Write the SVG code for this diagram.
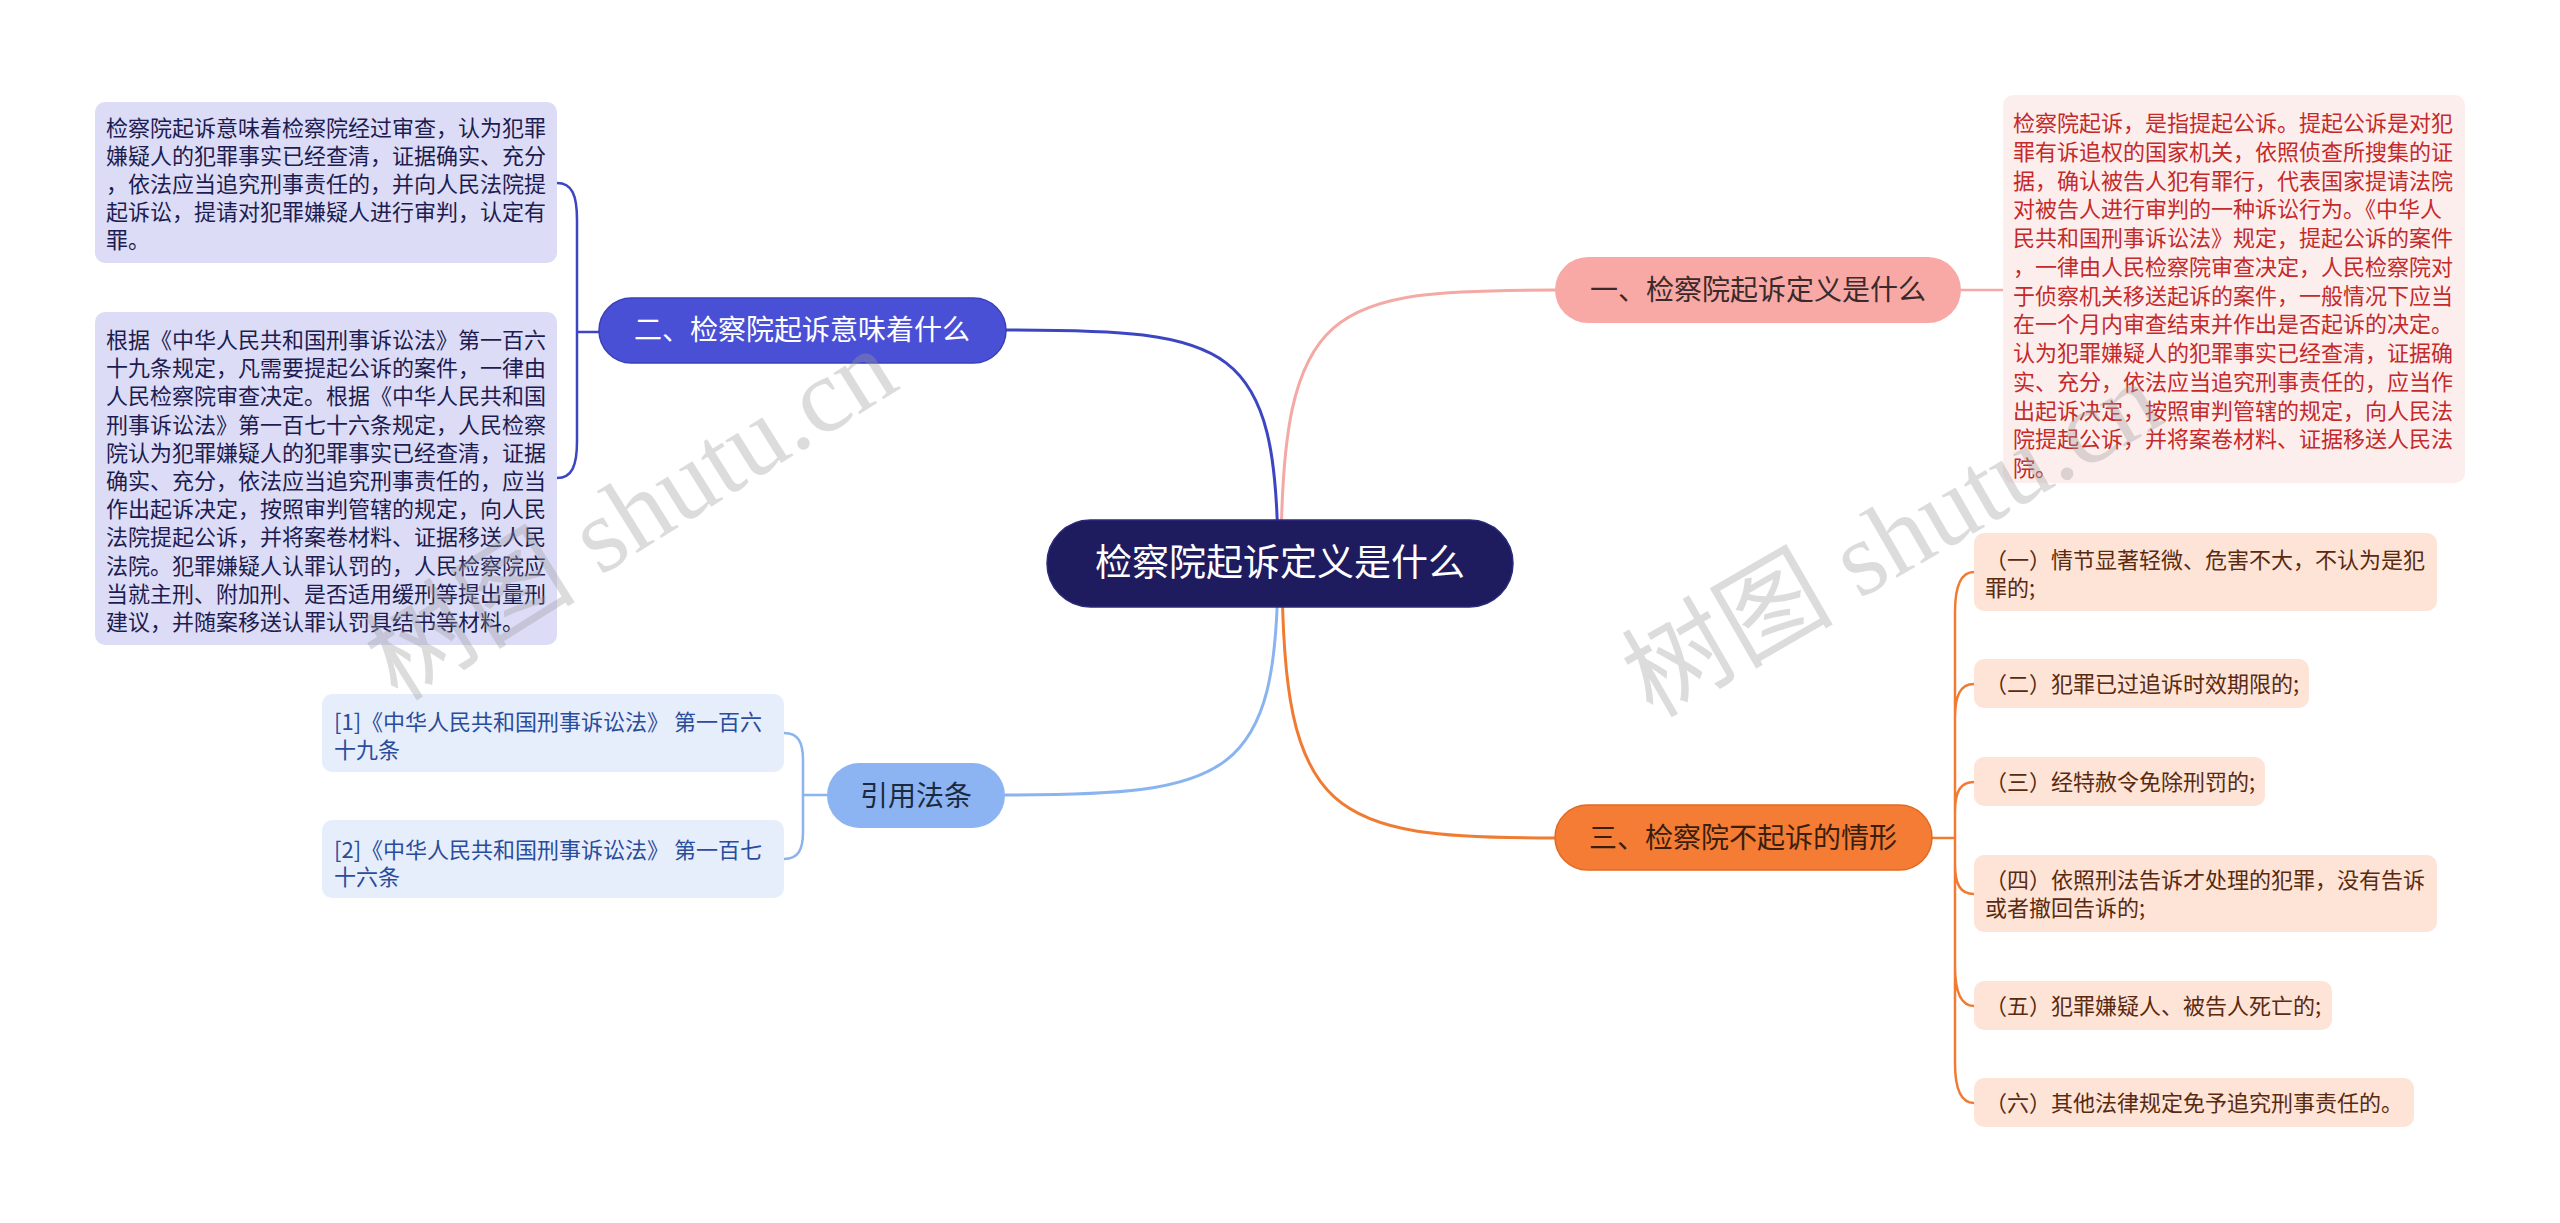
<svg xmlns="http://www.w3.org/2000/svg" width="2560" height="1223" viewBox="0 0 2560 1223">
<style>
text{font-family:"Noto Sans CJK SC","Noto Sans",sans-serif;}
.lf{font-size:22px;}
.nd{font-size:28px;text-anchor:middle;}
.ln{fill:none;stroke-width:3;stroke-linecap:round;}
.sl{fill:none;stroke-width:2.5;stroke-linecap:round;}
.wm{font-family:"Liberation Serif","Noto Sans CJK SC",serif;font-size:106px;fill:#9a9a9a;fill-opacity:0.35;text-anchor:middle;}
</style>
<rect width="2560" height="1223" fill="#ffffff"/>
<g id="connectors">
<path class="ln" stroke="#f4a9a5" d="M1281 563 C1281 300 1330 290 1555 290"/>
<path class="ln" stroke="#3d46c2" d="M1278 563 C1278 340 1230 330 1006 330"/>
<path class="ln" stroke="#8ab4f0" d="M1278 563 C1278 780 1230 795 1005 795"/>
<path class="ln" stroke="#f07c34" d="M1282 563 C1282 820 1330 838 1555 838"/>
<path class="sl" stroke="#f4a9a5" d="M1961 290 L2003 290"/>
<path class="sl" stroke="#3d46c2" d="M599 332 L577 332 M577 332 L577 220 C577 195 572 183 557 183 M577 332 L577 441 C577 466 572 478 557 478"/>
<path class="sl" stroke="#8ab4f0" d="M827 795 L803 795 M803 795 L803 760 C803 742 798 733 784 733 M803 795 L803 832 C803 850 798 859 784 859"/>
<path class="sl" stroke="#f07c34" d="M1932 838 L1955 838 M1955 838 L1955 612 C1955 587 1960 572 1974 572 M1955 838 L1955 718 C1955 696 1960 684 1974 684 M1955 838 L1955 812 C1955 792 1960 782 1974 782 M1955 838 L1955 864 C1955 884 1960 894 1974 894 M1955 838 L1955 966 C1955 991 1960 1006 1974 1006 M1955 838 L1955 1063 C1955 1088 1960 1103 1974 1103"/>
</g>
<g id="root">
<rect x="1047" y="520" width="466" height="87" rx="43.5" fill="#1e1b5e" stroke="#2c2a7a" stroke-width="1.5"/>
<text x="1280" y="576" font-size="37" text-anchor="middle" fill="#ffffff">检察院起诉定义是什么</text>
</g>
<g id="n1">
<rect x="1555" y="257" width="406" height="66" rx="33" fill="#f8a9a5"/>
<text class="nd" x="1758" y="300" fill="#3a2a2a">一、检察院起诉定义是什么</text>
</g>
<g id="n2">
<rect x="599" y="298" width="407" height="65" rx="32.5" fill="#4a50d6" stroke="#3a40b8" stroke-width="1.5"/>
<text class="nd" x="802" y="340" fill="#ffffff">二、检察院起诉意味着什么</text>
</g>
<g id="n3">
<rect x="1555" y="805" width="377" height="65" rx="32.5" fill="#f47c34" stroke="#e06a25" stroke-width="1.5"/>
<text class="nd" x="1743" y="848" fill="#3a1f0f">三、检察院不起诉的情形</text>
</g>
<g id="n4">
<rect x="827" y="763" width="178" height="65" rx="32.5" fill="#8db4f2"/>
<text class="nd" x="916" y="806" fill="#1b2a40">引用法条</text>
</g>
<g id="n1a">
<rect x="2003" y="95" width="462" height="388" rx="10" fill="#fdeeee"/>
<text class="lf" fill="#c42a2a">
<tspan x="2013" y="131">检察院起诉，是指提起公诉。提起公诉是对犯</tspan>
<tspan x="2013" y="159.75">罪有诉追权的国家机关，依照侦查所搜集的证</tspan>
<tspan x="2013" y="188.5">据，确认被告人犯有罪行，代表国家提请法院</tspan>
<tspan x="2013" y="217.25">对被告人进行审判的一种诉讼行为。《中华人</tspan>
<tspan x="2013" y="246">民共和国刑事诉讼法》规定，提起公诉的案件</tspan>
<tspan x="2013" y="274.75">，一律由人民检察院审查决定，人民检察院对</tspan>
<tspan x="2013" y="303.5">于侦察机关移送起诉的案件，一般情况下应当</tspan>
<tspan x="2013" y="332.25">在一个月内审查结束并作出是否起诉的决定。</tspan>
<tspan x="2013" y="361">认为犯罪嫌疑人的犯罪事实已经查清，证据确</tspan>
<tspan x="2013" y="389.75">实、充分，依法应当追究刑事责任的，应当作</tspan>
<tspan x="2013" y="418.5">出起诉决定，按照审判管辖的规定，向人民法</tspan>
<tspan x="2013" y="447.25">院提起公诉，并将案卷材料、证据移送人民法</tspan>
<tspan x="2013" y="476">院。</tspan>
</text>
</g>
<g id="n2a">
<rect x="95" y="102" width="462" height="161" rx="10" fill="#dcdcf7"/>
<text class="lf" fill="#1c1c50">
<tspan x="106" y="136">检察院起诉意味着检察院经过审查，认为犯罪</tspan>
<tspan x="106" y="164">嫌疑人的犯罪事实已经查清，证据确实、充分</tspan>
<tspan x="106" y="192">，依法应当追究刑事责任的，并向人民法院提</tspan>
<tspan x="106" y="220">起诉讼，提请对犯罪嫌疑人进行审判，认定有</tspan>
<tspan x="106" y="248">罪。</tspan>
</text>
</g>
<g id="n2b">
<rect x="95" y="312" width="462" height="333" rx="10" fill="#dcdcf7"/>
<text class="lf" fill="#1c1c50">
<tspan x="106" y="348">根据《中华人民共和国刑事诉讼法》第一百六</tspan>
<tspan x="106" y="376.2">十九条规定，凡需要提起公诉的案件，一律由</tspan>
<tspan x="106" y="404.4">人民检察院审查决定。根据《中华人民共和国</tspan>
<tspan x="106" y="432.6">刑事诉讼法》第一百七十六条规定，人民检察</tspan>
<tspan x="106" y="460.8">院认为犯罪嫌疑人的犯罪事实已经查清，证据</tspan>
<tspan x="106" y="489">确实、充分，依法应当追究刑事责任的，应当</tspan>
<tspan x="106" y="517.2">作出起诉决定，按照审判管辖的规定，向人民</tspan>
<tspan x="106" y="545.4">法院提起公诉，并将案卷材料、证据移送人民</tspan>
<tspan x="106" y="573.6">法院。犯罪嫌疑人认罪认罚的，人民检察院应</tspan>
<tspan x="106" y="601.8">当就主刑、附加刑、是否适用缓刑等提出量刑</tspan>
<tspan x="106" y="630">建议，并随案移送认罪认罚具结书等材料。</tspan>
</text>
</g>
<g id="n4a">
<rect x="322" y="694" width="462" height="78" rx="10" fill="#e6eefb"/>
<text class="lf" fill="#2a4c9c">
<tspan x="334" y="730">[1]《中华人民共和国刑事诉讼法》 第一百六</tspan>
<tspan x="334" y="758">十九条</tspan>
</text>
</g>
<g id="n4b">
<rect x="322" y="820" width="462" height="78" rx="10" fill="#e6eefb"/>
<text class="lf" fill="#2a4c9c">
<tspan x="334" y="858">[2]《中华人民共和国刑事诉讼法》 第一百七</tspan>
<tspan x="334" y="885">十六条</tspan>
</text>
</g>
<g id="n3a">
<rect x="1974" y="533" width="463" height="78" rx="10" fill="#fde4d6"/>
<text class="lf" fill="#5a2a10"><tspan x="1985" y="568">（一）情节显著轻微、危害不大，不认为是犯</tspan><tspan x="1985" y="596">罪的;</tspan></text>
</g>
<g id="n3b">
<rect x="1974" y="659" width="335" height="49" rx="10" fill="#fde4d6"/>
<text class="lf" fill="#5a2a10" x="1985" y="692">（二）犯罪已过追诉时效期限的;</text>
</g>
<g id="n3c">
<rect x="1974" y="757" width="291" height="49" rx="10" fill="#fde4d6"/>
<text class="lf" fill="#5a2a10" x="1985" y="790">（三）经特赦令免除刑罚的;</text>
</g>
<g id="n3d">
<rect x="1974" y="855" width="463" height="77" rx="10" fill="#fde4d6"/>
<text class="lf" fill="#5a2a10"><tspan x="1985" y="888">（四）依照刑法告诉才处理的犯罪，没有告诉</tspan><tspan x="1985" y="916">或者撤回告诉的;</tspan></text>
</g>
<g id="n3e">
<rect x="1974" y="981" width="358" height="49" rx="10" fill="#fde4d6"/>
<text class="lf" fill="#5a2a10" x="1985" y="1014">（五）犯罪嫌疑人、被告人死亡的;</text>
</g>
<g id="n3f">
<rect x="1974" y="1078" width="440" height="49" rx="10" fill="#fde4d6"/>
<text class="lf" fill="#5a2a10" x="1985" y="1111">（六）其他法律规定免予追究刑事责任的。</text>
</g>
<g id="watermarks">
<text class="wm" transform="translate(650 545) rotate(-32)">树图 shutu.cn</text>
<text class="wm" transform="translate(1910 570) rotate(-30)">树图 shutu.cn</text>
</g>
</svg>
